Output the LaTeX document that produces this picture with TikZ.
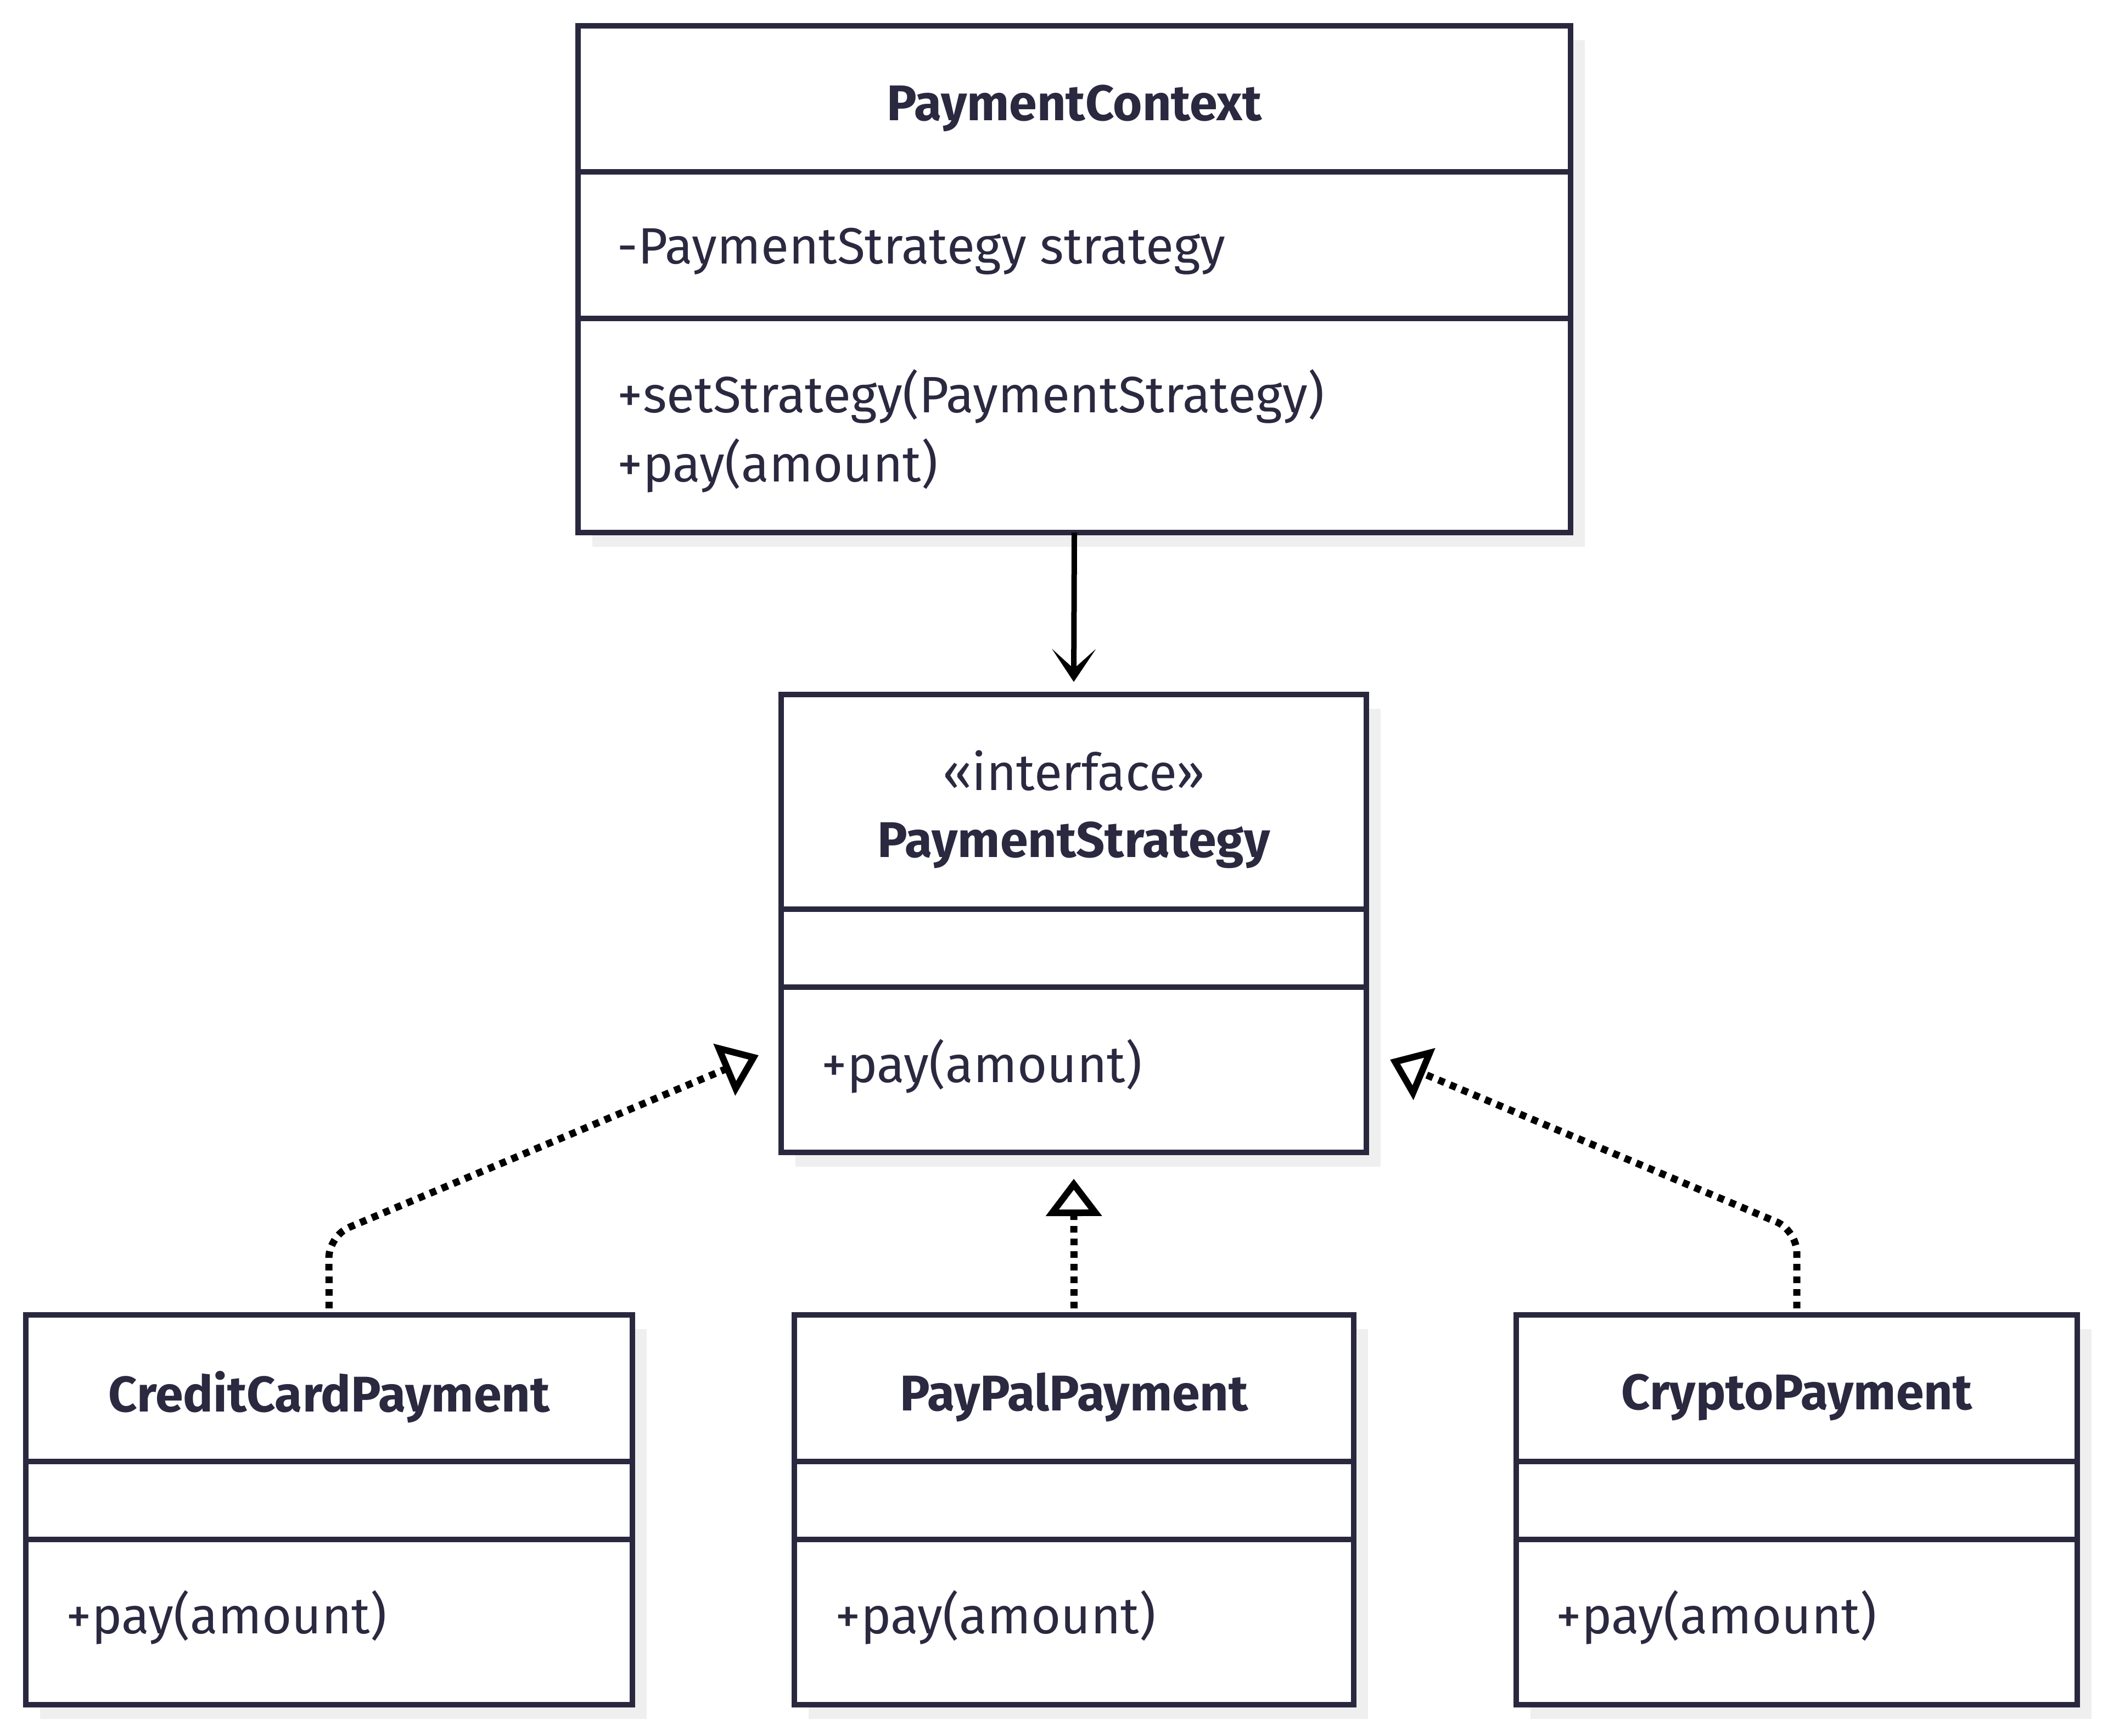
\documentclass[tikz,border=0pt]{standalone}
\usepackage{fontspec}
\setmainfont{Fira Sans}
\usetikzlibrary{arrows.meta,shadows}

\definecolor{umlline}{RGB}{41,40,62}
\definecolor{umltext}{RGB}{42,41,64}
\definecolor{umlshadow}{RGB}{239,239,239}

\begin{document}
\begin{tikzpicture}[
	classbox/.style={draw=umlline, line width=0.1cm, fill=white, inner sep=0pt, outer sep=0pt,
		drop shadow={shadow xshift=0.26cm, shadow yshift=-0.26cm, fill=umlshadow, opacity=1}},
	title/.style={text=umltext, font=\fontsize{26}{31}\selectfont\bfseries, inner sep=0pt},
	member/.style={text=umltext, font=\fontsize{26.5}{35.6}\selectfont, anchor=west, align=left, inner sep=0pt},
	divider/.style={draw=umlline, line width=0.1cm},
	assoc/.style={-{Stealth[length=0.6cm, width=0.8cm, inset=0.36cm]}, black, line width=0.1cm},
	realize/.style={-{Triangle[open, length=0.68cm, width=1.0cm, line width=0.12cm]}, black, line width=0.13cm, dash pattern=on 0.12cm off 0.11cm},
]

	\useasboundingbox (0,0) rectangle (38.4,-31.61);

	% context class
	\node[classbox, minimum width=18.08cm, minimum height=9.23cm] (ctx) at (19.57,-5.085) {};
	\draw[divider] ([yshift=-2.66cm]ctx.north west) -- ([yshift=-2.66cm]ctx.north east);
	\draw[divider] ([yshift=-5.33cm]ctx.north west) -- ([yshift=-5.33cm]ctx.north east);
	\node[title] (ctxname) at (19.57,-1.97) {PaymentContext};
	\node[member] (ctxattr) at (11.24,-4.58) {-PaymentStrategy strategy};
	\node[member] (ctxops) at (11.24,-7.85) {+setStrategy(PaymentStrategy)\\+pay(amount)};

	% interface
	\node[classbox, minimum width=10.66cm, minimum height=8.34cm] (strat) at (19.56,-16.82) {};
	\draw[divider] ([yshift=-3.91cm]strat.north west) -- ([yshift=-3.91cm]strat.north east);
	\draw[divider] ([yshift=-5.33cm]strat.north west) -- ([yshift=-5.33cm]strat.north east);
	\node[member, anchor=center] (stratstereo) at (19.56,-14.04) {«interface»};
	\node[title] (stratname) at (19.56,-15.39) {PaymentStrategy};
	\node[member] (stratops) at (14.96,-19.42) {+pay(amount)};

	% concrete strategies
	\node[classbox, minimum width=11.05cm, minimum height=7.10cm] (credit) at (5.995,-27.50) {};
	\draw[divider] ([yshift=-2.67cm]credit.north west) -- ([yshift=-2.67cm]credit.north east);
	\draw[divider] ([yshift=-4.09cm]credit.north west) -- ([yshift=-4.09cm]credit.north east);
	\node[title] (creditname) at (5.995,-25.45) {CreditCardPayment};
	\node[member] (creditops) at (1.20,-29.46) {+pay(amount)};

	\node[classbox, minimum width=10.19cm, minimum height=7.10cm] (paypal) at (19.565,-27.50) {};
	\draw[divider] ([yshift=-2.67cm]paypal.north west) -- ([yshift=-2.67cm]paypal.north east);
	\draw[divider] ([yshift=-4.09cm]paypal.north west) -- ([yshift=-4.09cm]paypal.north east);
	\node[title] (paypalname) at (19.565,-25.45) {PayPalPayment};
	\node[member] (paypalops) at (15.21,-29.46) {+pay(amount)};

	\node[classbox, minimum width=10.22cm, minimum height=7.10cm] (crypto) at (32.73,-27.50) {};
	\draw[divider] ([yshift=-2.67cm]crypto.north west) -- ([yshift=-2.67cm]crypto.north east);
	\draw[divider] ([yshift=-4.09cm]crypto.north west) -- ([yshift=-4.09cm]crypto.north east);
	\node[title] (cryptoname) at (32.73,-25.45) {CryptoPayment};
	\node[member] (cryptoops) at (28.34,-29.46) {+pay(amount)};

	% connectors
	\coordinate (lbend) at (5.99,-22.51);
	\coordinate (ltip) at (13.82,-19.22);
	\coordinate (rbend) at (32.73,-22.41);
	\coordinate (rtip) at (25.32,-19.30);

	\draw[assoc] (ctx.south) -- ([yshift=0.23cm]strat.north);
	\draw[realize, rounded corners=0.4cm, shorten <=0.12cm] (credit.north) -- (lbend) -- (ltip);
	\draw[realize, shorten <=0.12cm] (paypal.north) -- ([yshift=-0.48cm]strat.south);
	\draw[realize, rounded corners=0.4cm, shorten <=0.12cm] (crypto.north) -- (rbend) -- (rtip);

\end{tikzpicture}
\end{document}
